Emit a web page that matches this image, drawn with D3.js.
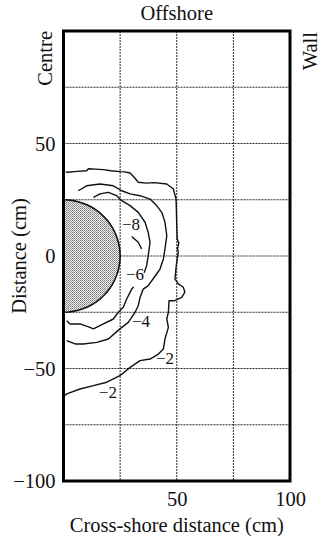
<!DOCTYPE html>
<html>
<head>
<meta charset="utf-8">
<script src="https://cdn.jsdelivr.net/npm/d3@7"></script>
<style>
  body { margin: 0; background: #fff; }
  svg { display: block; }
  text { font-family: "Liberation Serif", "DejaVu Serif", serif; fill: #111; }
</style>
</head>
<body>
<div id="chart"></div>
<script>
// tick labels
var xTicks = [50, 100];
var yTicks = [50, 0, -50, -100];
var gridX = [25, 50, 75];
var gridY = [-75, -50, -25, 0, 25, 50, 75];

// cylinder (radius in cm, centred on the centre line)
var cylinderR = 25;

// contour lines, [cross-shore, distance] in cm
var c2 = [[1.0,37.4],[2.1,37.2],[6,37.6],[10.2,37.9],[11,38.8],[14,38.6],[17.6,38.4],[21,37.9],[24.9,37.5],[27,37.4],[29.4,36.9],
  [31,35.2],[33.0,32.8],[36.7,32.4],[40,32.6],[45.6,32.0],[48.5,29.8],[49.7,25.3],[49.9,18],[50.0,13.5],[50.2,7.6],
  [50.9,5.8],[50.3,3.1],[50.7,1.8],[49.8,-4],[49.2,-10.2],[50.7,-12.4],[52.9,-13.9],[53.6,-16.1],[52.2,-18.4],
  [48.8,-19.9],[46.6,-19.9],[46.3,-25.0],[45.6,-28.0],[46.3,-31.7],[44.8,-36.9],[44.1,-41.3],[41.9,-43.6],
  [38.2,-45.8],[33.8,-46.5],[29.4,-49.5],[24.9,-53.2],[19.1,-56.1],[13.2,-57.6],[7.3,-59.1],[1.4,-61.3],[0.5,-62.0]];
var c4 = [[6.5,29.0],[10.2,31.2],[16.1,32.0],[22.0,31.2],[25.7,29.0],[29.4,27.6],[33.8,26.8],[38.2,25.3],[41.1,22.4],
  [43.4,19.4],[44.8,15.0],[45.6,9.0],[44.8,3.1],[44.1,-1.3],[42.6,-5.8],[41.1,-8.0],[37.4,-13.2],[35.2,-14.7],
  [33.8,-18.4],[33.0,-22.1],[31.6,-25.0],[28.6,-29.5],[24.9,-32.4],[19.8,-36.9],[14.7,-38.4],[8.7,-39.1],
  [5.1,-39.1],[1.4,-37.6]];
var c6 = [[13.2,26.1],[16.1,27.6],[19.8,28.3],[23.5,26.8],[25.7,24.6],[29.4,22.4],[33.0,19.4],[36.0,15.0],[37.4,10.5],
  [38.2,6.1],[37.4,0.1],[36.7,-4.3],[35.6,-7.5]];
var c6b = [[31.0,-13.8],[30.1,-14.7],[27.9,-19.1],[26.4,-22.8],[24.2,-25.0],[22.0,-28.0],[17.6,-30.2],[13.2,-32.4],
  [11.7,-31.7],[7.3,-30.2],[2.9,-30.2],[1.4,-28.8]];
var c8 = [[30.1,8.7],[33.0,6.1],[34.5,3.1]];
var contours = [c2, c4, c6, c6b, c8];

var labelText = ["\u22128", "\u22126", "\u22124", "\u22122", "\u22122"];
var labelPos = [[29.8,14.2],[31.6,-8.0],[34.2,-28.9],[44.8,-45.3],[19.6,-60.4]];

var W = 321, H = 536;
var FONT = "'Liberation Serif', 'DejaVu Serif', serif";
var svg = d3.select("#chart").append("svg")
  .attr("width", W)
  .attr("height", H)
  .attr("font-family", FONT);

var x = d3.scaleLinear().domain([0, 100]).range([63.5, 290]);
var y = d3.scaleLinear().domain([-100, 100]).range([481, 31]);

// stipple for the cylinder
var pat = svg.append("defs").append("pattern")
  .attr("id", "stip")
  .attr("width", 2).attr("height", 2)
  .attr("patternUnits", "userSpaceOnUse");
pat.append("rect").attr("width", 2).attr("height", 2).attr("fill", "#eeeeee");
pat.append("rect").attr("width", 1).attr("height", 1).attr("fill", "#7e7e7e");
pat.append("rect").attr("x", 1).attr("y", 1).attr("width", 1).attr("height", 1).attr("fill", "#9a9a9a");

// grid
svg.append("g").selectAll("line").data(gridX).enter().append("line")
  .attr("x1", function(d){ return x(d); }).attr("x2", function(d){ return x(d); })
  .attr("y1", y(100)).attr("y2", y(-100))
  .attr("stroke", "#2a2a2a").attr("stroke-width", 1).attr("stroke-dasharray", "2,1");
svg.append("g").selectAll("line").data(gridY).enter().append("line")
  .attr("y1", function(d){ return y(d); }).attr("y2", function(d){ return y(d); })
  .attr("x1", x(0)).attr("x2", x(100))
  .attr("stroke", "#2a2a2a").attr("stroke-width", 1).attr("stroke-dasharray", "2,1");

// cylinder
var arcPts = d3.range(90, -90.1, -5).map(function(a){
  var r = a * Math.PI / 180;
  return [cylinderR * Math.cos(r), cylinderR * Math.sin(r)];
});
var line = d3.line()
  .x(function(d){ return x(d[0]); })
  .y(function(d){ return y(d[1]); });

svg.append("path")
  .attr("d", line(arcPts) + "Z")
  .attr("fill", "url(#stip)")
  .attr("stroke", "none");
svg.append("path")
  .attr("d", line(arcPts))
  .attr("fill", "none")
  .attr("stroke", "#111").attr("stroke-width", 1.6);

// contours
svg.append("g").selectAll("path").data(contours).enter().append("path")
  .attr("d", line)
  .attr("fill", "none")
  .attr("stroke", "#111")
  .attr("stroke-width", 1.4)
  .attr("stroke-linejoin", "round");

svg.append("g").selectAll("text").data(labelText).enter().append("text")
  .attr("x", function(d, i){ return x(labelPos[i][0]); })
  .attr("y", function(d, i){ return y(labelPos[i][1]); })
  .attr("dy", "0.35em")
  .attr("text-anchor", "middle")
  .attr("font-size", "17px")
  .text(function(d){ return d; });

// frame
svg.append("rect")
  .attr("x", x(0)).attr("y", y(100))
  .attr("width", x(100) - x(0)).attr("height", y(-100) - y(100))
  .attr("fill", "none").attr("stroke", "#000").attr("stroke-width", 3);

// axes (labels only, the frame carries the lines)
var fs = "20.5px";
var xAxis = svg.append("g")
  .attr("transform", "translate(0," + y(-100) + ")")
  .call(d3.axisBottom(x).tickValues(xTicks).tickSize(0).tickPadding(10));
xAxis.attr("font-family", FONT).select(".domain").remove();
xAxis.selectAll("text").attr("font-size", fs).attr("fill", "#111");

var yAxis = svg.append("g")
  .attr("transform", "translate(" + x(0) + ",0)")
  .call(d3.axisLeft(y).tickValues(yTicks).tickSize(0).tickPadding(8)
    .tickFormat(function(d){ return d < 0 ? "\u2212" + Math.abs(d) : d; }));
yAxis.attr("font-family", FONT).select(".domain").remove();
yAxis.selectAll("text").attr("font-size", fs).attr("fill", "#111");

svg.append("text")
  .attr("x", x(50)).attr("y", 20)
  .attr("text-anchor", "middle")
  .attr("font-size", fs)
  .text("Offshore");

svg.append("text")
  .attr("x", x(50)).attr("y", 532)
  .attr("text-anchor", "middle")
  .attr("font-size", fs)
  .text("Cross-shore distance (cm)");

svg.append("text")
  .attr("transform", "translate(26," + y(0) + ") rotate(-90)")
  .attr("text-anchor", "middle")
  .attr("font-size", fs)
  .text("Distance (cm)");

svg.append("text")
  .attr("transform", "translate(52,31) rotate(-90)")
  .attr("text-anchor", "end")
  .attr("font-size", fs)
  .text("Centre");

svg.append("text")
  .attr("transform", "translate(317,32) rotate(-90)")
  .attr("text-anchor", "end")
  .attr("font-size", fs)
  .text("Wall");
</script>
</body>
</html>
